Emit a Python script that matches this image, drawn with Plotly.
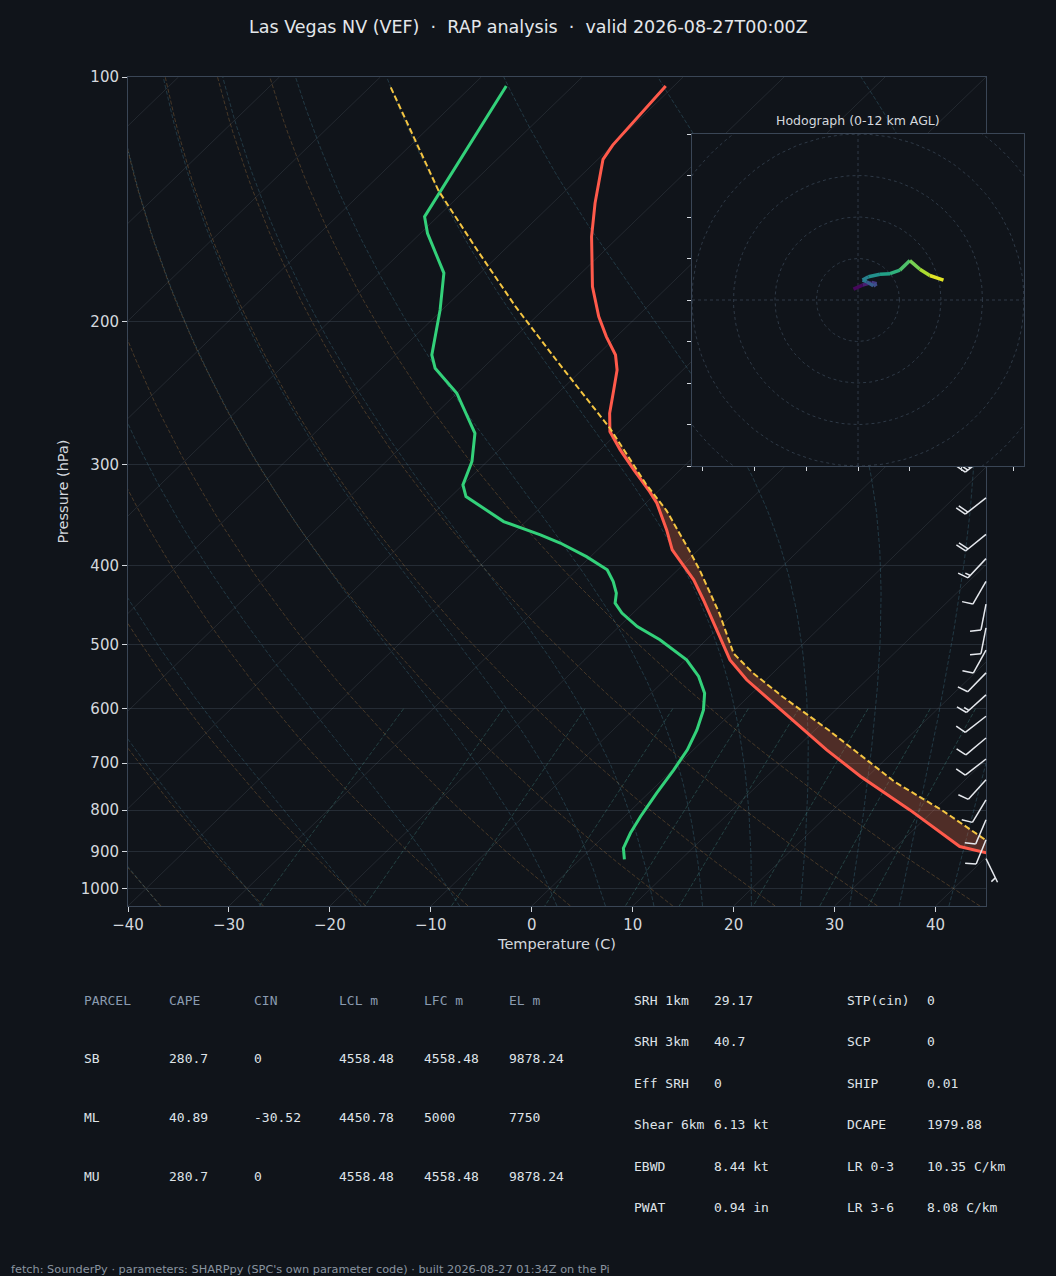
import math

import numpy as np
import plotly.graph_objects as go
from plotly.colors import sample_colorscale

# ---- sounding ----
ENV_P = [102.6, 121.3, 126.3, 143.0, 157.3, 181.2, 197.3, 208.8, 220.0, 229.6,
         242.9, 259.6, 273.4, 288.0, 304.8, 324.2, 335.0, 361.3, 382.4, 416.3,
         440.5, 479.8, 522.4, 552.8, 590.1, 674.2, 727.2, 799.5, 887.0, 920.0]
ENV_T = [-70.8, -70.0, -69.5, -65.8, -62.7, -57.5, -53.8, -51.0, -48.2, -46.5,
         -44.8, -42.8, -40.9, -38.0, -34.6, -30.8, -28.9, -25.2, -22.6, -17.4,
         -14.4, -10.0, -5.6, -1.9, 3.1, 13.2, 19.3, 27.6, 36.3, 43.0]

TD_P = [102.6, 136.5, 148.6, 155.8, 174.4, 193.6, 220.0, 228.5, 245.2, 274.7,
        297.6, 318.0, 328.7, 352.9, 366.4, 375.0, 389.8, 404.6, 418.3, 432.3,
        444.7, 457.5, 475.3, 493.5, 522.4, 547.6, 574.1, 602.0, 637.1, 674.2,
        713.5, 762.4, 814.6, 853.8, 891.2, 920.0]
TD_T = [-86.6, -82.5, -81.3, -79.3, -73.6, -70.2, -66.4, -64.7, -60.0, -54.1,
        -51.5, -50.0, -48.5, -42.2, -37.2, -34.4, -30.4, -27.0, -25.2, -23.7,
        -22.8, -21.1, -18.2, -14.6, -9.9, -7.0, -4.7, -3.1, -1.7, -0.6,
        0.1, 0.8, 1.6, 2.3, 3.15, 4.4]

PARCEL_P = [103.0, 138.0, 163.0, 192.0, 223.0, 248.0, 271.0, 317.0, 342.0, 382.0,
            405.0, 458.0, 513.0, 542.0, 580.0, 637.0, 739.0, 800.0, 920.0]
PARCEL_T = [-97.9, -82.6, -72.8, -63.0, -53.6, -46.8, -41.2, -32.0, -27.2, -21.0,
            -17.8, -11.4, -5.9, -2.0, 3.4, 11.3, 23.3, 30.8, 43.0]
EL_P = 271.0

# wind barbs (kt)
BARB_P = [293, 330, 366, 392, 418, 446, 477, 508, 542, 577,
          613, 652, 692, 734, 777, 822, 870, 918]
BARB_DIR = [232, 232, 231, 223, 210, 191, 191, 209, 224, 228,
            232, 230, 232, 222, 211, 203, 202, 154]
BARB_SPD = [30, 20, 20, 15, 10, 10, 10, 10, 10, 15,
            10, 10, 10, 10, 10, 10, 10, 5]

# hodograph, 0-12 km AGL
HODO_U = [-1.1, 1.1, 3.3, 4.5, 3.7, 2.1, 1.1, 2.5, 5.3, 7.7, 10.1, 12.5, 14.9, 17.3, 20.6]
HODO_V = [2.6, 3.6, 4.2, 3.9, 3.4, 4.4, 4.8, 5.6, 6.2, 6.35, 7.2, 9.5, 7.4, 5.9, 4.8]
HODO_Z = [0.0, 0.5, 1.5, 2.5, 3.0, 4.0, 5.0, 5.5, 6.5, 7.2, 8.2, 9.0, 10.0, 11.0, 12.0]

# parameter tables
PARCEL_HEAD = ["PARCEL", "CAPE", "CIN", "LCL m", "LFC m", "EL m"]
PARCEL_NAMES = ["SB", "ML", "MU"]
CAPE = [280.7, 40.89, 280.7]
CIN = [0, -30.52, 0]
LCL_M = [4558.48, 4450.78, 4558.48]
LFC_M = [4558.48, 5000, 4558.48]
EL_M = [9878.24, 7750, 9878.24]

KIN_NAMES = ["SRH 1km", "SRH 3km", "Eff SRH", "Shear 6km", "EBWD", "PWAT"]
KIN_VALUES = ["29.17", "40.7", "0", "6.13 kt", "8.44 kt", "0.94 in"]
THERMO_NAMES = ["STP(cin)", "SCP", "SHIP", "DCAPE", "LR 0-3", "LR 3-6"]
THERMO_VALUES = ["0", "0", "0.01", "1979.88", "10.35 C/km", "8.08 C/km"]

# background line families
ISO_T = list(range(-120, 41, 10))
DRY_T0 = list(range(-40, 41, 10))
MOIST_T0 = [-40, -30, -20, -10] + list(range(0, 46, 5))
MIX_W = [0.0004, 0.001, 0.002, 0.004, 0.007, 0.01, 0.016, 0.024, 0.032]

TITLE = "Las Vegas NV (VEF)  \u00b7  RAP analysis  \u00b7  valid 2026-08-27T00:00Z"
FOOTER = ("fetch: SounderPy \u00b7 parameters: SHARPpy (SPC's own parameter code) "
          "\u00b7 built 2026-08-27 01:34Z on the Pi")

# ---- look ----
W, H = 1056, 1276
PLOT_L, PLOT_R, PLOT_T, PLOT_B = 128, 986, 77, 906
HODO_L, HODO_R, HODO_T, HODO_B = 692, 1024, 134, 466
BARB_L, BARB_R = 930, 1012

BG = "#10141a"
AXIS = "#3a4656"
GRID = "#252c35"
TXT = "#d4d8de"
HEAD = "#8a9bb0"
RED = "#ff5a4b"
GREEN = "#33d17a"
YELLOW = "#f4c542"
SANS = "DejaVu Sans"
MONO = "DejaVu Sans Mono"

T_MIN, T_MAX = -40, 45
P_BOT, P_TOP = 1050.0, 100.0
SKEW = T_MAX - T_MIN  # 45 degree skew in axes units
LOG_SPAN = math.log10(P_BOT) - math.log10(P_TOP)
PX_PER_DEC = (PLOT_B - PLOT_T) / LOG_SPAN


def fx(px):
    return px / W


def fy(py):
    return 1 - py / H


def skew(t, p):
    t = np.asarray(t, float)
    p = np.asarray(p, float)
    return t + SKEW * (math.log10(P_BOT) - np.log10(p)) / LOG_SPAN


def joined(lines):
    xs, ys = [], []
    for x, y in lines:
        xs += list(x) + [None]
        ys += list(y) + [None]
    return xs, ys


# moist adiabats (pseudo-adiabatic lapse rate, RK4 in ln p)
RD, LV, CP, EPS = 287.04749, 2.50084e6, 1004.6662, 0.621957


def sat_mr(p, t):
    es = 6.112 * np.exp(17.67 * (t - 273.15) / (t - 29.65))
    return EPS * es / (p - es)


def moist_rate(lnp, t):
    rs = sat_mr(np.exp(lnp), t)
    return (RD * t + LV * rs) / (CP + LV * LV * rs * EPS / (RD * t * t))


def moist_path(t0, p_end, n):
    lnp = np.linspace(math.log(1000.0), math.log(p_end), n)
    t = np.array(t0, float) + 273.15
    out = [t.copy()]
    for a, b in zip(lnp[:-1], lnp[1:]):
        h = b - a
        k1 = moist_rate(a, t)
        k2 = moist_rate(a + h / 2, t + h / 2 * k1)
        k3 = moist_rate(a + h / 2, t + h / 2 * k2)
        k4 = moist_rate(b, t + h * k3)
        t = t + h / 6 * (k1 + 2 * k2 + 2 * k3 + k4)
        out.append(t.copy())
    return np.exp(lnp), np.array(out) - 273.15


fig = go.Figure()


def add_lines(xs, ys, color, width=1, dash="solid", xa="x", ya="y"):
    fig.add_trace(go.Scatter(x=xs, y=ys, mode="lines", xaxis=xa, yaxis=ya,
                             line=dict(color=color, width=width, dash=dash),
                             hoverinfo="skip", showlegend=False))


# isotherms
iso = [(skew([t, t], [P_BOT, P_TOP]), [P_BOT, P_TOP]) for t in ISO_T]
add_lines(*joined(iso), "rgba(150,160,175,0.15)", 1)

# dry adiabats
p_dry = np.geomspace(P_BOT, P_TOP, 60)
dry = [(skew((t0 + 273.15) * (p_dry / 1000.0) ** 0.28571 - 273.15, p_dry), p_dry) for t0 in DRY_T0]
add_lines(*joined(dry), "rgba(200,140,70,0.30)", 1, "4px,2px")

# moist adiabats
p_up, t_up = moist_path(MOIST_T0, P_TOP, 120)
p_dn, t_dn = moist_path(MOIST_T0, P_BOT, 6)
p_moist = np.concatenate([p_dn[::-1], p_up[1:]])
t_moist = np.concatenate([t_dn[::-1], t_up[1:]])
moist = [(skew(t_moist[:, i], p_moist), p_moist) for i in range(len(MOIST_T0))]
add_lines(*joined(moist), "rgba(80,150,175,0.28)", 1, "4px,2px")

# mixing ratio lines
p_mix = np.linspace(600, P_BOT, 30)
mix = []
for w in MIX_W:
    ln_e = np.log(p_mix * w / (EPS + w) / 6.112)
    td = 243.5 * ln_e / (17.67 - ln_e)
    mix.append((skew(td, p_mix), p_mix))
add_lines(*joined(mix), "rgba(80,170,160,0.30)", 1, "4px,2px")

# CAPE shading between environment and parcel below the EL
env_p, env_t = np.array(ENV_P), np.array(ENV_T)
par_p, par_t = np.array(PARCEL_P), np.array(PARCEL_T)
me, mp = env_p >= EL_P, par_p >= EL_P
fill_x = np.concatenate([skew(env_t[me], env_p[me]), skew(par_t[mp], par_p[mp])[::-1]])
fill_y = np.concatenate([env_p[me], par_p[mp][::-1]])
fig.add_trace(go.Scatter(x=fill_x, y=fill_y, mode="lines", fill="toself",
                         fillcolor="rgba(225,105,70,0.30)", line=dict(width=0),
                         hoverinfo="skip", showlegend=False))

add_lines(skew(ENV_T, ENV_P), ENV_P, RED, 3)
add_lines(skew(TD_T, TD_P), TD_P, GREEN, 3)
add_lines(skew(PARCEL_T, PARCEL_P), PARCEL_P, YELLOW, 2, "6px,3px")

# wind barbs, drawn in pixel offsets from the right edge of the skew-T
B_LEN = 26.3
B_FULL, B_WID, B_SP = 0.4 * B_LEN, 0.25 * B_LEN, 0.125 * B_LEN
barb_segs = []
for p0, d, s in zip(BARB_P, BARB_DIR, BARB_SPD):
    r = math.radians(d)
    ux, uy = math.sin(r), -math.cos(r)
    vx, vy = -uy, ux
    spd = 5 * int(s / 5 + 0.5)
    n_full = (spd % 50) // 10
    half = (spd % 10) >= 5
    segs = [[(0, 0), (B_LEN * ux, B_LEN * uy)]]
    off = B_LEN
    for _ in range(n_full):
        segs.append([(off * ux, off * uy),
                     (off * ux + B_FULL * vx + B_WID / 2 * ux, off * uy + B_FULL * vy + B_WID / 2 * uy)])
        off -= B_SP
    if half:
        if n_full == 0:
            off -= 1.5 * B_SP
        segs.append([(off * ux, off * uy),
                     (off * ux + B_FULL / 2 * vx + B_WID / 4 * ux, off * uy + B_FULL / 2 * vy + B_WID / 4 * uy)])
    for seg in segs:
        barb_segs.append(([a for a, b in seg], [p0 * 10 ** (b / PX_PER_DEC) for a, b in seg]))
add_lines(*joined(barb_segs), "#e6e9ee", 1.5, xa="x2", ya="y2")

# hodograph inset
fig.add_trace(go.Scatter(x=[-40, 40, 40, -40, -40], y=[-40, -40, 40, 40, -40], mode="lines",
                         fill="toself", fillcolor=BG, line=dict(width=0), xaxis="x3", yaxis="y3",
                         hoverinfo="skip", showlegend=False))
ang = np.linspace(0, 2 * np.pi, 181)
rings = [(r * np.cos(ang), r * np.sin(ang)) for r in range(10, 61, 10)]
add_lines(*joined(rings), "#2e3946", 1, "3px,3px", "x3", "y3")
add_lines([-40, 40, None, 0, 0], [0, 0, None, -40, 40], "#2e3946", 1, "3px,3px", "x3", "y3")
cols = sample_colorscale("Viridis", [(a + b) / 2 / max(HODO_Z) for a, b in zip(HODO_Z[:-1], HODO_Z[1:])])
for i, c in enumerate(cols):
    add_lines(HODO_U[i:i + 2], HODO_V[i:i + 2], c, 3.5, xa="x3", ya="y3")

# ---- axes ----
tick_font = dict(family=SANS, size=15, color=TXT)
title_font = dict(family=SANS, size=14.5, color=TXT)
x_ticks = list(range(-40, 41, 10))
p_ticks = list(range(100, 1001, 100))
y_dom = [fy(PLOT_B), fy(PLOT_T)]
y_rng = [math.log10(P_BOT), math.log10(P_TOP)]

fig.update_layout(
    width=W, height=H, margin=dict(l=0, r=0, t=0, b=0, pad=0), autosize=False,
    paper_bgcolor=BG, plot_bgcolor="rgba(0,0,0,0)", showlegend=False, hovermode=False,
    xaxis=dict(domain=[fx(PLOT_L), fx(PLOT_R)], range=[T_MIN, T_MAX], anchor="y", automargin=False,
               tickvals=x_ticks, ticktext=[str(t).replace("-", "\u2212") for t in x_ticks],
               ticks="outside", ticklen=5, tickcolor=TXT, tickfont=tick_font,
               showline=True, mirror=True, linecolor=AXIS, showgrid=False, zeroline=False,
               title=dict(text="Temperature (C)", font=title_font, standoff=5)),
    yaxis=dict(domain=y_dom, type="log", range=y_rng, anchor="x", automargin=False,
               tickvals=p_ticks, ticktext=[str(p) for p in p_ticks],
               ticks="outside", ticklen=5, tickcolor=TXT, tickfont=tick_font,
               showline=True, mirror=True, linecolor=AXIS,
               showgrid=True, gridcolor=GRID, gridwidth=1, zeroline=False,
               title=dict(text="Pressure (hPa)", font=title_font, standoff=8)),
    xaxis2=dict(domain=[fx(BARB_L), fx(BARB_R)], range=[BARB_L - PLOT_R, BARB_R - PLOT_R],
                anchor="y2", visible=False, automargin=False),
    yaxis2=dict(domain=y_dom, type="log", range=y_rng, anchor="x2", visible=False, automargin=False),
    xaxis3=dict(domain=[fx(HODO_L), fx(HODO_R)], range=[-40, 40], anchor="y3", automargin=False,
                tickvals=[-37.5, -25, -12.5, 0, 12.5, 25, 37.5], showticklabels=False,
                ticks="outside", ticklen=4, tickcolor=TXT,
                showline=True, mirror=True, linecolor=AXIS, showgrid=False, zeroline=False),
    yaxis3=dict(domain=[fy(HODO_B), fy(HODO_T)], range=[-40, 40], anchor="x3", automargin=False,
                tickvals=list(range(-40, 41, 10)), showticklabels=False,
                ticks="outside", ticklen=4, tickcolor=TXT,
                showline=True, mirror=True, linecolor=AXIS, showgrid=False, zeroline=False),
)

# ---- text ----
notes = []


def note(text, x, y, size, color, family=SANS, anchor="left"):
    notes.append(dict(text=text, x=fx(x), y=fy(y), xref="paper", yref="paper",
                      xanchor=anchor, yanchor="middle", showarrow=False,
                      font=dict(family=family, size=size, color=color)))


note(TITLE, W / 2, 27, 17.5, "#e4e7eb", anchor="center")
note("Hodograph (0-12 km AGL)", (HODO_L + HODO_R) / 2, 120, 12.5, TXT, anchor="center")

col_x = [82, 167, 252, 337, 422, 507]
row_y = [1000, 1058, 1117, 1176]
for cx, head in zip(col_x, PARCEL_HEAD):
    note(head, cx, row_y[0], 13, HEAD, MONO)
for i, name in enumerate(PARCEL_NAMES):
    vals = [name] + [f"{v:g}" for v in (CAPE[i], CIN[i], LCL_M[i], LFC_M[i], EL_M[i])]
    for cx, v in zip(col_x, vals):
        note(v, cx, row_y[i + 1], 13, "#dfe3e8", MONO)

side_y = [1000, 1041, 1083, 1124, 1166, 1207]
for y, a, b, c, d in zip(side_y, KIN_NAMES, KIN_VALUES, THERMO_NAMES, THERMO_VALUES):
    note(a, 632, y, 13, "#dfe3e8", MONO)
    note(b, 712, y, 13, "#dfe3e8", MONO)
    note(c, 845, y, 13, "#dfe3e8", MONO)
    note(d, 925, y, 13, "#dfe3e8", MONO)

note(FOOTER, 9, 1269, 11.3, "#8a94a0")
fig.update_layout(annotations=notes)

fig.write_html("out.html", config={"responsive": False, "displayModeBar": False},
               post_script="document.body.style.margin='0';"
                           "document.body.style.overflow='hidden';"
                           "document.body.style.background='" + BG + "';")
